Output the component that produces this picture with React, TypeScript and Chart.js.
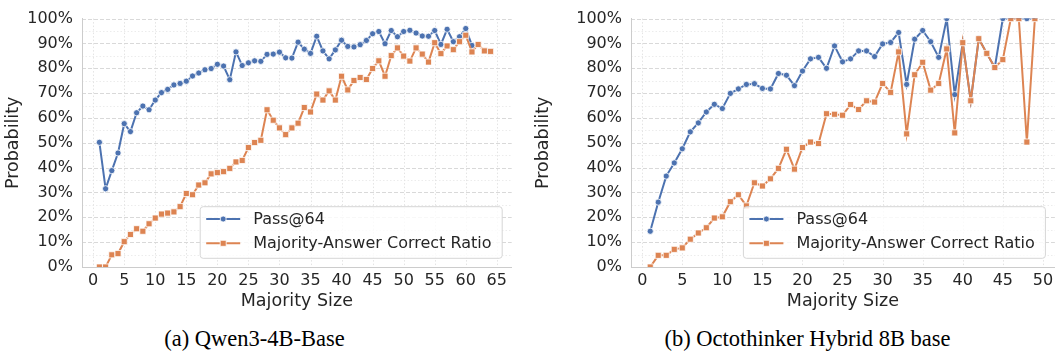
import React, { useEffect, useRef } from 'react';
import { Chart, registerables } from 'chart.js';

Chart.register(...registerables);

// ---------- data ----------
const qwenSizes = [1, 2, 3, 4, 5, 6, 7, 8, 9, 10, 11, 12, 13, 14, 15, 16, 17, 18, 19, 20, 21, 22, 23, 24, 25, 26, 27, 28, 29, 30, 31, 32, 33, 34, 35, 36, 37, 38, 39, 40, 41, 42, 43, 44, 45, 46, 47, 48, 49, 50, 51, 52, 53, 54, 55, 56, 57, 58, 59, 60, 61, 62, 63, 64];
const qwenPass = [50.2, 31.5, 38.8, 45.9, 57.7, 54.5, 62.1, 64.8, 63.3, 67.2, 70.2, 71.5, 73.3, 73.9, 74.8, 76.9, 78.1, 79.4, 79.9, 81.6, 80.9, 75.4, 86.6, 81.1, 82.2, 83.0, 82.8, 85.6, 85.7, 86.5, 84.2, 84.1, 90.5, 87.7, 86.0, 92.9, 87.0, 83.8, 87.4, 91.3, 88.8, 88.6, 89.5, 91.2, 93.9, 94.8, 89.9, 95.2, 92.7, 94.8, 95.3, 94.2, 93.0, 92.9, 95.2, 89.6, 95.7, 90.7, 92.7, 96.0, 89.2];
const qwenMajority = [0, 0, 4.9, 5.4, 10.2, 13.1, 15.4, 14.4, 17.4, 19.7, 21.3, 21.7, 22.2, 24.3, 29.6, 29.1, 33.0, 33.9, 37.5, 38.0, 38.4, 39.7, 42.3, 42.9, 48.1, 50.1, 51.0, 63.3, 59.1, 56.0, 53.3, 56.0, 57.9, 64.2, 62.4, 69.6, 67.2, 70.9, 67.2, 76.8, 71.3, 75.1, 76.3, 75.5, 79.9, 83.0, 76.8, 85.1, 88.2, 84.9, 82.9, 88.2, 85.7, 82.5, 90.3, 85.9, 89.0, 87.5, 90.7, 93.3, 86.6, 89.6, 87.0, 86.8];

const octoSizes = [1, 2, 3, 4, 5, 6, 7, 8, 9, 10, 11, 12, 13, 14, 15, 16, 17, 18, 19, 20, 21, 22, 23, 24, 25, 26, 27, 28, 29, 30, 31, 32, 33, 34, 35, 36, 37, 38, 39, 40, 41, 42, 43, 44, 45, 46, 47, 48, 49];
const octoPass = [14.4, 26.1, 36.6, 41.9, 47.6, 54.4, 58.0, 62.4, 65.5, 63.8, 69.9, 71.7, 73.5, 73.8, 71.9, 71.7, 77.9, 77.2, 73.0, 78.9, 83.8, 84.4, 80.0, 89.0, 82.6, 83.8, 87.0, 87.0, 84.7, 89.8, 90.4, 94.4, 73.5, 91.7, 95.2, 90.7, 84.4, 100, 69.4, 90.3, 66.9, 91.9, 86.0, 80.3, 100, 100, 100, 100, 100];
const octoMajority = [0, 4.7, 4.7, 7.1, 7.7, 11.2, 13.7, 15.8, 19.7, 20.2, 26.3, 29.1, 24.6, 33.9, 32.6, 35.5, 39.7, 47.4, 39.4, 48.1, 50.3, 49.7, 61.7, 61.5, 61.1, 65.4, 63.4, 66.9, 66.4, 73.9, 70.3, 86.6, 53.6, 77.4, 82.4, 71.2, 73.9, 87.8, 54.0, 90.3, 66.9, 91.9, 86.0, 80.3, 83.5, 100, 100, 50.3, 100];

const seriesLabels = ['Pass@64', 'Majority-Answer Correct Ratio'];
const yMajorTicks = [10, 20, 30, 40, 50, 60, 70, 80, 90, 100];
const yMinorTicks = [5, 15, 25, 35, 45, 55, 65, 75, 85, 95];
const qwenXTicks = [0, 5, 10, 15, 20, 25, 30, 35, 40, 45, 50, 55, 60, 65];
const octoXTicks = [0, 5, 10, 15, 20, 25, 30, 35, 40, 45, 50];
const xTitle = 'Majority Size';
const yTitle = 'Probability';
const captions = ['(a) Qwen3-4B-Base', '(b) Octothinker Hybrid 8B base'];

// ---------- style ----------
const BLUE = '#4C72B0';
const ORANGE = '#DD8452';
const TEXT = '#262626';
const FONT = 'DejaVu Sans';

function makeGridPlugin(xTicks: number[]) {
  return {
    id: 'mplGrid',
    beforeDraw(chart: any) {
      const { ctx, chartArea: a, scales } = chart;
      const xs = scales.x;
      const ys = scales.y;
      ctx.save();
      ctx.lineWidth = 1;
      const hline = (v: number) => {
        const y = Math.round(ys.getPixelForValue(v)) + 0.5;
        ctx.beginPath();
        ctx.moveTo(a.left, y);
        ctx.lineTo(a.right, y);
        ctx.stroke();
      };
      const vline = (v: number) => {
        const x = Math.round(xs.getPixelForValue(v)) + 0.5;
        ctx.beginPath();
        ctx.moveTo(x, a.top);
        ctx.lineTo(x, a.bottom);
        ctx.stroke();
      };
      ctx.strokeStyle = '#ececec';
      ctx.setLineDash([1.5, 2]);
      yMinorTicks.forEach(hline);
      ctx.strokeStyle = '#e4e4e4';
      ctx.setLineDash([1.5, 2]);
      xTicks.forEach(vline);
      ctx.strokeStyle = '#d9d9d9';
      ctx.setLineDash([4, 2]);
      yMajorTicks.forEach(hline);
      ctx.restore();
    },
  };
}

const legendPlugin = {
  id: 'mplLegend',
  afterDraw(chart: any) {
    const { ctx, chartArea: a } = chart;
    const w = 302;
    const h = 51.6;
    const x0 = a.right - 9.5 - w;
    const y0 = a.bottom - 8.7 - h;
    ctx.save();
    ctx.beginPath();
    const r = 3;
    ctx.moveTo(x0 + r, y0);
    ctx.lineTo(x0 + w - r, y0);
    ctx.arcTo(x0 + w, y0, x0 + w, y0 + r, r);
    ctx.lineTo(x0 + w, y0 + h - r);
    ctx.arcTo(x0 + w, y0 + h, x0 + w - r, y0 + h, r);
    ctx.lineTo(x0 + r, y0 + h);
    ctx.arcTo(x0, y0 + h, x0, y0 + h - r, r);
    ctx.lineTo(x0, y0 + r);
    ctx.arcTo(x0, y0, x0 + r, y0, r);
    ctx.closePath();
    ctx.fillStyle = 'rgba(255,255,255,0.8)';
    ctx.fill();
    ctx.strokeStyle = '#d6d6d6';
    ctx.lineWidth = 1;
    ctx.stroke();
    const colors = [BLUE, ORANGE];
    seriesLabels.forEach((label, i) => {
      const y = y0 + 12.3 + i * 24.3;
      ctx.strokeStyle = colors[i];
      ctx.lineWidth = 2;
      ctx.beginPath();
      ctx.moveTo(x0 + 6, y);
      ctx.lineTo(x0 + 40, y);
      ctx.stroke();
      ctx.fillStyle = colors[i];
      ctx.strokeStyle = '#ffffff';
      ctx.lineWidth = 0.8;
      ctx.beginPath();
      if (i === 0) {
        ctx.arc(x0 + 23, y, 3, 0, Math.PI * 2);
      } else {
        ctx.rect(x0 + 23 - 3, y - 3, 6, 6);
      }
      ctx.fill();
      ctx.stroke();
      ctx.fillStyle = TEXT;
      ctx.font = `16px "${FONT}"`;
      ctx.textBaseline = 'middle';
      ctx.textAlign = 'left';
      ctx.fillText(label, x0 + 53, y + 0.5);
    });
    ctx.restore();
  },
};

function makeConfig(
  sizes: number[],
  pass: number[],
  majority: number[],
  xMin: number,
  xMax: number,
  xTicks: number[],
  yWidth: number,
  padRight: number
): any {
  return {
    type: 'line',
    data: {
      datasets: [
        {
          label: seriesLabels[0],
          data: pass.map((v, i) => ({ x: sizes[i], y: v })),
          borderColor: BLUE,
          backgroundColor: BLUE,
          borderWidth: 2,
          pointStyle: 'circle',
          pointRadius: 3.1,
          pointBackgroundColor: BLUE,
          pointBorderColor: '#ffffff',
          pointBorderWidth: 0.8,
          tension: 0,
          order: 2,
        },
        {
          label: seriesLabels[1],
          data: majority.map((v, i) => ({ x: sizes[i], y: v })),
          borderColor: ORANGE,
          backgroundColor: ORANGE,
          borderWidth: 2,
          pointStyle: 'rect',
          pointRadius: 4.3,
          pointBackgroundColor: ORANGE,
          pointBorderColor: '#ffffff',
          pointBorderWidth: 0.8,
          tension: 0,
          order: 1,
        },
      ],
    },
    options: {
      animation: false,
      responsive: false,
      events: [],
      layout: { padding: { left: 0, right: padRight, top: 10, bottom: 0 } },
      plugins: {
        legend: { display: false },
        tooltip: { enabled: false },
      },
      scales: {
        x: {
          type: 'linear',
          min: xMin,
          max: xMax,
          afterFit: (s: any) => {
            s.height = 49;
          },
          ticks: {
            stepSize: 5,
            includeBounds: false,
            autoSkip: false,
            maxRotation: 0,
            padding: 4.5,
            color: TEXT,
            font: { family: FONT, size: 16 },
          },
          grid: { display: false, drawTicks: false, tickLength: 0 },
          border: { display: true, color: '#cccccc', width: 1 },
          title: {
            display: true,
            text: xTitle,
            color: TEXT,
            font: { family: FONT, size: 17.5 },
            padding: { top: 0, bottom: 3.8 },
          },
        },
        y: {
          type: 'linear',
          min: 0,
          max: 100,
          afterFit: (s: any) => {
            s.width = yWidth;
          },
          ticks: {
            stepSize: 10,
            padding: 9,
            color: TEXT,
            font: { family: FONT, size: 16 },
            callback: (v: any) => `${v}%`,
          },
          grid: { display: false, drawTicks: false, tickLength: 0 },
          border: { display: true, color: '#cccccc', width: 1 },
          title: {
            display: true,
            text: yTitle,
            color: TEXT,
            font: { family: FONT, size: 17.5 },
            padding: { top: 2.5, bottom: 0 },
          },
        },
      },
    },
    plugins: [makeGridPlugin(xTicks), legendPlugin],
  };
}

function ChartPanel(props: { left: number; width: number; height: number; build: () => any }) {
  const ref = useRef<HTMLCanvasElement>(null);
  useEffect(() => {
    const chart = new Chart(ref.current as HTMLCanvasElement, props.build());
    return () => chart.destroy();
  }, []);
  return (
    <canvas
      ref={ref}
      width={props.width}
      height={props.height}
      style={{ position: 'absolute', left: props.left, top: 0, width: props.width, height: props.height }}
    />
  );
}

const captionStyle: React.CSSProperties = {
  position: 'absolute',
  width: 400,
  textAlign: 'center',
  fontFamily: '"Liberation Serif", "Times New Roman", serif',
  fontSize: 22.5,
  lineHeight: '22.5px',
  color: '#000',
  whiteSpace: 'nowrap',
};

export default function App() {
  return (
    <div style={{ position: 'absolute', left: 0, top: 0, width: 1060, height: 356, background: '#fff', overflow: 'hidden' }}>
      <ChartPanel
        left={0}
        width={530}
        height={316}
        build={() => makeConfig(qwenSizes, qwenPass, qwenMajority, -1.8, 67.4, qwenXTicks, 82, 18.3)}
      />
      <ChartPanel
        left={530}
        width={530}
        height={316}
        build={() => makeConfig(octoSizes, octoPass, octoMajority, -1.4, 51.5, octoXTicks, 101, 0)}
      />
      <div style={{ ...captionStyle, left: 254.5 - 200, top: 327.5 }}>{captions[0]}</div>
      <div style={{ ...captionStyle, left: 807.5 - 200, top: 327.5 }}>{captions[1]}</div>
    </div>
  );
}
